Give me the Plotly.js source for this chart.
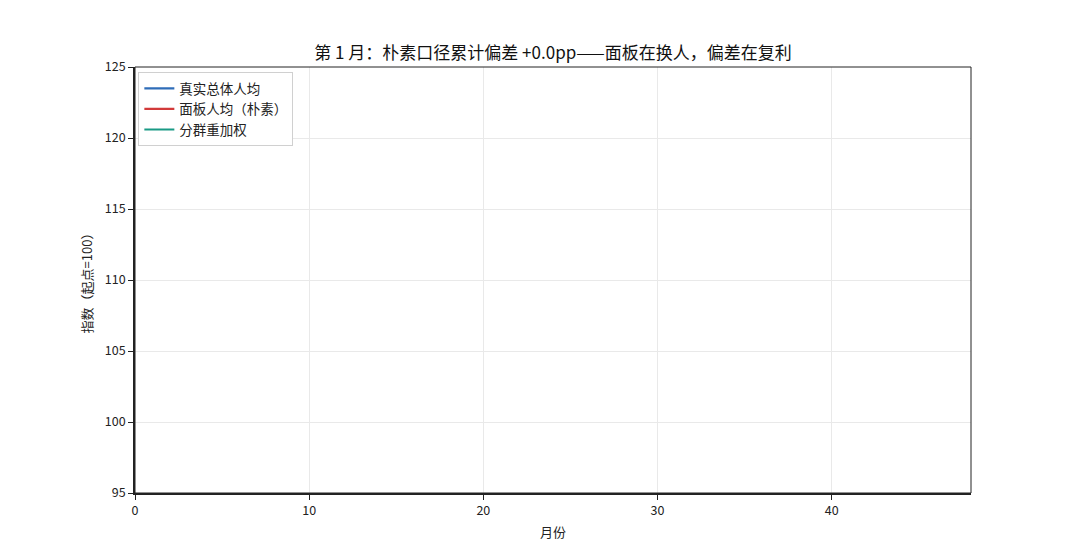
<!DOCTYPE html>
<html>
<head>
<meta charset="utf-8">
<script src="https://cdn.plot.ly/plotly-3.0.1.min.js"></script>
<style>
  html, body { margin: 0; padding: 0; background: white; }
  #myDiv { width: 1079px; height: 555px; }
</style>
</head>
<body>
<div id="myDiv"></div>
<script>
// frame 1 of the animation: every series still sits at the start value
var months = [0];
var trueIndex = [100];
var panelIndex = [100];
var reweightIndex = [100];

var seriesNames = ["真实总体人均", "面板人均（朴素）", "分群重加权"];
var seriesColors = ["#2f6db8", "#d23a3a", "#1a9a85"];

var xTicks = [0, 10, 20, 30, 40];
var yTicks = [95, 100, 105, 110, 115, 120, 125];

var font = "Noto Sans CJK SC, Noto Sans, sans-serif";

var data = [trueIndex, panelIndex, reweightIndex].map((ys, i) => ({
    type: "scatter",
    mode: "lines",
    x: months,
    y: ys,
    name: seriesNames[i],
    line: { color: seriesColors[i], width: 2.2 },
}));

let layout = {
    width: 1079,
    height: 555,
    margin: { l: 135, r: 108, t: 67, b: 62 },
    paper_bgcolor: "white",
    plot_bgcolor: "white",
    font: { family: font, color: "#222", size: 12 },
    title: {
        text: "第 1 月：朴素口径累计偏差 +0.0pp——面板在换人，偏差在复利",
        font: { family: font, size: 17, color: "#111" },
        x: 0.5125,
        xanchor: "center",
        y: 0.905,
        yanchor: "middle",
    },
    xaxis: {
        range: [0, 48],
        tickvals: xTicks,
        ticks: "outside",
        ticklen: 5,
        tickcolor: "#222",
        showline: true,
        linecolor: "#222",
        linewidth: 1.8,
        showgrid: true,
        gridcolor: "#e9e9e9",
        zeroline: false,
        tickfont: { size: 12.5 },
        title: { text: "月份", font: { size: 13 }, standoff: 10 },
    },
    yaxis: {
        range: [95, 125],
        tickvals: yTicks,
        ticks: "outside",
        ticklen: 5,
        tickcolor: "#222",
        showline: true,
        linecolor: "#222",
        linewidth: 1.8,
        showgrid: true,
        gridcolor: "#e9e9e9",
        zeroline: false,
        tickfont: { size: 12.5 },
        title: { text: "指数（起点=100）", font: { size: 13 }, standoff: 9 },
    },
    shapes: [
        {
            type: "rect",
            xref: "paper",
            yref: "paper",
            x0: 0, x1: 1, y0: 0, y1: 1,
            line: { color: "#222", width: 1 },
            layer: "above",
        },
    ],
    showlegend: true,
    legend: {
        x: 0.004,
        y: 0.988,
        xanchor: "left",
        yanchor: "top",
        bgcolor: "white",
        bordercolor: "#d0d0d0",
        borderwidth: 1,
        font: { size: 13.5, family: font },
        tracegroupgap: 0,
    },
};

Plotly.newPlot("myDiv", data, layout, { displayModeBar: false, staticPlot: true });
</script>
</body>
</html>
